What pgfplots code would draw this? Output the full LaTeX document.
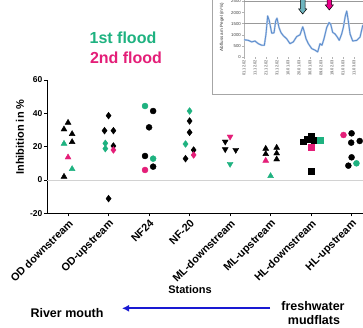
\documentclass[border=0pt]{standalone}
\usepackage{pgfplots}
\pgfplotsset{compat=1.18}
\usepackage{fontspec}
\setmainfont{Liberation Sans}
\usetikzlibrary{arrows.meta}
\definecolor{fgreen}{RGB}{30,178,128}
\definecolor{fpink}{RGB}{228,30,120}
\definecolor{arrblue}{RGB}{25,25,210}
\definecolor{flow}{RGB}{90,140,205}
\definecolor{tealarr}{RGB}{110,180,190}
\newcommand{\fs}[1]{\fontsize{#1}{#1}\selectfont}
\begin{document}
\begin{tikzpicture}
\useasboundingbox (0pt,0pt) rectangle (363pt,327pt);
\clip (0pt,0pt) rectangle (363pt,327pt);
\fill[white] (0pt,0pt) rectangle (363pt,327pt);
% ---------------- main axis ----------------
\begin{axis}[
  at={(47pt,113.7pt)}, anchor=south west, scale only axis,
  width=320.8pt, height=133.3pt,
  xmin=-0.52, xmax=7.4, ymin=-20, ymax=60,
  axis x line*=bottom, axis y line*=left,
  axis line style={-, line width=0.9pt, black},
  xtick={0,...,7},
  xticklabels={OD downstream, OD-upstream, NF24, NF-20, ML-downstream, ML-upstream, HL-downstream, HL-upstream},
  ytick={-20,0,20,40,60},
  tick align=outside, major tick length=3pt,
  tick style={black, line width=0.8pt},
  xticklabel style={rotate=45, anchor=north east, inner sep=1.5pt, font=\fs{10.8}\bfseries},
  yticklabel style={font=\fs{8.5}\bfseries, inner sep=1.5pt},
  /pgf/number format/assume math mode=true,
  clip=false,
]
\addplot[gray!35, line width=0.9pt] coordinates {(-0.52,0) (7.4,0)};
% OD downstream (triangles)
\addplot[only marks, mark=triangle*, mark size=3.4pt, black] coordinates {(0,34.4) (-0.1,30.4) (0.1,27.6) (0.1,22.8) (-0.1,2.0)};
\addplot[only marks, mark=triangle*, mark size=3.4pt, fgreen] coordinates {(-0.1,21.8) (0.1,6.6)};
\addplot[only marks, mark=triangle*, mark size=3.4pt, fpink] coordinates {(0,13.6)};
% OD-upstream (diamonds)
\addplot[only marks, mark=diamond*, mark size=3.4pt, black] coordinates {(1,38.6) (0.9,29.6) (1.12,29.6) (1.12,20.4) (1,-11.2)};
\addplot[only marks, mark=diamond*, mark size=3.4pt, fgreen] coordinates {(0.92,22) (0.92,18.8)};
\addplot[only marks, mark=diamond*, mark size=3.4pt, fpink] coordinates {(1.12,18)};
% NF24 (circles)
\addplot[only marks, mark=*, mark size=3pt, black] coordinates {(2.1,41.4) (2,31.6) (1.9,14.4) (2.1,8)};
\addplot[only marks, mark=*, mark size=3pt, fgreen] coordinates {(1.9,44.4) (2.1,12.8)};
\addplot[only marks, mark=*, mark size=3pt, fpink] coordinates {(1.9,6)};
% NF-20 (diamonds)
\addplot[only marks, mark=diamond*, mark size=3.4pt, black] coordinates {(3,35.4) (3,28.6) (3.1,18) (2.9,12.8)};
\addplot[only marks, mark=diamond*, mark size=3.4pt, fgreen] coordinates {(3,41.4) (2.9,21.6)};
\addplot[only marks, mark=diamond*, mark size=3.4pt, fpink] coordinates {(3.1,15)};
% ML-downstream (inverted triangles)
\addplot[only marks, mark=triangle*, mark size=3.4pt, mark options={rotate=180}, black] coordinates {(3.88,23) (3.88,18.4) (4.14,18)};
\addplot[only marks, mark=triangle*, mark size=3.4pt, mark options={rotate=180}, fgreen] coordinates {(4,9.6)};
\addplot[only marks, mark=triangle*, mark size=3.4pt, mark options={rotate=180}, fpink] coordinates {(4,26)};
% ML-upstream (triangles)
\addplot[only marks, mark=triangle*, mark size=3.4pt, black] coordinates {(4.88,18.8) (4.88,15.6) (5.15,19.4) (5.15,16) (5.15,12.4)};
\addplot[only marks, mark=triangle*, mark size=3.4pt, fgreen] coordinates {(5,2.4)};
\addplot[only marks, mark=triangle*, mark size=3.4pt, fpink] coordinates {(4.88,11.6)};
% HL-downstream (squares)
\addplot[only marks, mark=square*, mark size=2.8pt, black] coordinates {(5.81,23) (5.9,24.6) (6,26.6) (6.08,24) (6,5.2)};
\addplot[only marks, mark=square*, mark size=2.8pt, fgreen] coordinates {(6.22,23.8)};
\addplot[only marks, mark=square*, mark size=2.8pt, fpink] coordinates {(6,19.6)};
% HL-upstream (circles)
\addplot[only marks, mark=*, mark size=3pt, black] coordinates {(7,28) (6.99,22.4) (7.2,23.4) (7,13.6) (6.92,8.6)};
\addplot[only marks, mark=*, mark size=3pt, fgreen] coordinates {(7.12,10)};
\addplot[only marks, mark=*, mark size=3pt, fpink] coordinates {(6.8,27)};
\end{axis}
% labels
\node[rotate=90, font=\fs{11}\bfseries] at (20pt,190pt) {Inhibition in \%};
\node[font=\fs{11}\bfseries] at (190pt,37pt) {Stations};
\node[font=\fs{16}\bfseries, text=fgreen] at (123pt,289pt) {1st flood};
\node[font=\fs{16}\bfseries, text=fpink] at (126pt,269pt) {2nd flood};
\node[font=\fs{12.5}\bfseries] at (67pt,14pt) {River mouth};
\node[font=\fs{12.5}\bfseries] at (313pt,20.5pt) {freshwater};
\node[font=\fs{12.5}\bfseries] at (314pt,6.5pt) {mudflats};
\draw[arrblue, line width=2.2pt, -{Latex[length=7pt,width=7pt]}] (270pt,18.7pt) -- (122pt,18.7pt);
% ---------------- inset ----------------
\filldraw[fill=white, draw=gray!70, line width=0.8pt] (212pt,233pt) rectangle (375pt,340pt);
\begin{axis}[
  at={(244pt,270pt)}, anchor=south west, scale only axis,
  width=121pt, height=66.6pt,
  xmin=0, xmax=11, ymin=0, ymax=3000,
  axis x line*=bottom, axis y line*=left,
  x axis line style={draw=none},
  y axis line style={-, gray!60, line width=0.6pt},
  ytick={0,500,...,2500},
  xtick={0,...,10},
  xticklabels={01.12.02,11.12.02,21.12.02,31.12.02,10.01.03,20.01.03,30.01.03,09.02.03,19.02.03,01.03.03,11.03.03},
  tick align=outside, major tick length=2pt,
  tick style={gray!60, line width=0.4pt},
  yticklabel style={font=\fs{4.3}, text=black!75, inner sep=1pt},
  xticklabel style={font=\fs{4}, text=black!75, rotate=90, anchor=east, inner sep=1pt},
  /pgf/number format/assume math mode=true,
  /pgf/number format/1000 sep={},
  clip=false,
]
\addplot[gray!80, line width=0.7pt] coordinates {(0,1500) (11.5,1500)};
\addplot[gray!80, line width=0.7pt] coordinates {(0,2500) (11.5,2500)};
\addplot[flow!45, line width=1.8pt, line join=round] coordinates {
(0,780) (0.39,750) (0.70,680) (1.0,720) (1.30,600) (1.61,530) (1.85,530) (2.0,1040) (2.15,1850) (2.30,1630) (2.52,1070) (2.73,1090) (2.88,1630) (3.0,1750) (3.18,1330) (3.36,1100) (3.57,960) (3.88,820) (4.18,600) (4.48,680) (4.79,920) (5.09,1000) (5.34,1360) (5.45,1190) (5.64,820) (5.85,600) (6.15,380) (6.45,310) (6.70,230) (6.91,600) (7.09,530) (7.27,820) (7.52,1330) (7.73,1550) (7.88,1480) (8.06,1110) (8.27,1040) (8.48,900) (8.66,750) (8.88,1040) (9.03,1330) (9.21,1850) (9.34,2070) (9.48,1630) (9.64,1040) (9.88,720) (10.25,750) (10.55,900) (10.79,1410) (11,1500)};
\addplot[flow, line width=0.8pt, line join=round] coordinates {
(0,780) (0.39,750) (0.70,680) (1.0,720) (1.30,600) (1.61,530) (1.85,530) (2.0,1040) (2.15,1850) (2.30,1630) (2.52,1070) (2.73,1090) (2.88,1630) (3.0,1750) (3.18,1330) (3.36,1100) (3.57,960) (3.88,820) (4.18,600) (4.48,680) (4.79,920) (5.09,1000) (5.34,1360) (5.45,1190) (5.64,820) (5.85,600) (6.15,380) (6.45,310) (6.70,230) (6.91,600) (7.09,530) (7.27,820) (7.52,1330) (7.73,1550) (7.88,1480) (8.06,1110) (8.27,1040) (8.48,900) (8.66,750) (8.88,1040) (9.03,1330) (9.21,1850) (9.34,2070) (9.48,1630) (9.64,1040) (9.88,720) (10.25,750) (10.55,900) (10.79,1410) (11,1500)};
\end{axis}
\node[rotate=90, font=\fs{4.5}, text=black!80] at (222pt,300pt) {Abfluss am Pegel (m³/s)};
% flood arrows
\filldraw[fill=tealarr, draw=black, line width=0.5pt] (300.4pt,335pt) -- (300.4pt,318pt) -- (298.7pt,318pt) -- (302.7pt,313pt) -- (306.7pt,318pt) -- (305pt,318pt) -- (305pt,335pt) -- cycle;
\filldraw[fill=magenta, draw=black, line width=0.5pt] (327pt,335pt) -- (327pt,322pt) -- (325.3pt,322pt) -- (329.3pt,317pt) -- (333.3pt,322pt) -- (331.6pt,322pt) -- (331.6pt,335pt) -- cycle;
\end{tikzpicture}
\end{document}
